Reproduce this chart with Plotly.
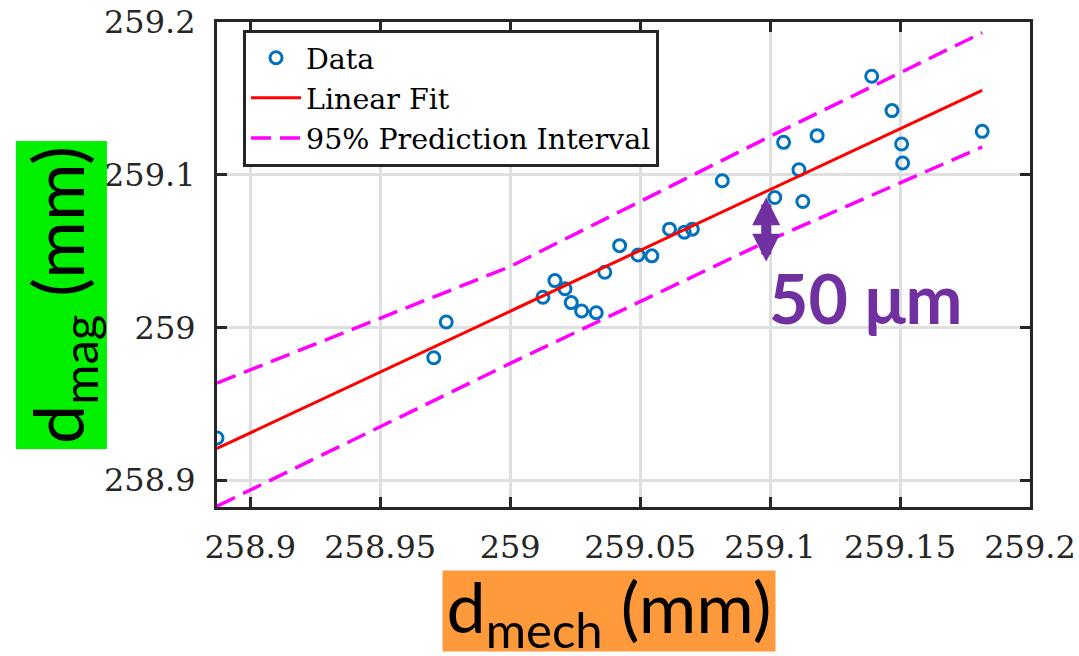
import plotly.graph_objects as go

# ---- data ----
data_x = [258.8872, 258.9706, 258.9754, 259.0126, 259.0172, 259.0211, 259.0235,
          259.0275, 259.0331, 259.0364, 259.0421, 259.0492, 259.0545, 259.0613,
          259.0670, 259.0701, 259.0816, 259.1018, 259.1052, 259.1111, 259.1126,
          259.1181, 259.1391, 259.1469, 259.1506, 259.1510, 259.1816]
data_y = [258.9277, 258.9802, 259.0036, 259.0198, 259.0307, 259.0254, 259.0163,
          259.0108, 259.0097, 259.0362, 259.0536, 259.0475, 259.0469, 259.0644,
          259.0624, 259.0644, 259.0961, 259.0851, 259.1212, 259.1033, 259.0825,
          259.1256, 259.1645, 259.1420, 259.1201, 259.1077, 259.1284]

fit_x = [258.8872, 259.1816]
fit_y = [258.9208, 259.1553]

pi_x = [258.8872, 259.0, 259.1, 259.1816]
pi_upper = [258.9636, 259.0399, 259.1251, 259.1930]
pi_lower = [258.8830, 258.9765, 259.0574, 259.1182]

x_ticks = [258.9, 258.95, 259.0, 259.05, 259.1, 259.15, 259.2]
x_ticktext = ["258.9", "258.95", "259", "259.05", "259.1", "259.15", "259.2"]
y_ticks = [258.9, 259.0, 259.1, 259.2]
y_ticktext = ["258.9", "259", "259.1", "259.2"]

x_range = [258.8872, 259.2]
y_range = [258.8825, 259.2]

arrow_x = 259.0985
arrow_top = 259.0862
arrow_bottom = 259.0430
label_50 = "50 μm"
label_50_x = 259.0990
label_50_y = 259.0195

AX = "#262626"
SERIF = "DejaVu Serif"
SANS = "Lato"

fig = go.Figure()
fig.add_trace(go.Scatter(
    x=data_x, y=data_y, mode="markers", name="Data",
    marker=dict(symbol="circle-open", size=12, color="#0072BD",
                line=dict(width=3, color="#0072BD")),
))
fig.add_trace(go.Scatter(
    x=fit_x, y=fit_y, mode="lines", name="Linear Fit",
    line=dict(color="#FF0000", width=3),
))
fig.add_trace(go.Scatter(
    x=pi_x, y=pi_upper, mode="lines", name="95% Prediction Interval",
    line=dict(color="#FF00FF", width=3.5, dash="20px,9px"),
))
fig.add_trace(go.Scatter(
    x=pi_x, y=pi_lower, mode="lines", name="95% Prediction Interval",
    showlegend=False,
    line=dict(color="#FF00FF", width=3.5, dash="20px,9px"),
))

axis_common = dict(
    showline=True, linecolor=AX, linewidth=3, mirror="allticks",
    ticks="inside", ticklen=10, tickwidth=3, tickcolor=AX,
    showgrid=True, gridcolor="#DFDFDF", gridwidth=2.5,
    zeroline=False, automargin=False,
    tickfont=dict(family=SERIF, size=32, color=AX),
)

fig.update_xaxes(range=x_range, tickvals=x_ticks, ticktext=x_ticktext,
                 ticklabelstandoff=10, **axis_common)
fig.update_yaxes(range=y_range, tickvals=y_ticks, ticktext=y_ticktext,
                 ticklabelstandoff=12, **axis_common)

fig.update_layout(
    width=1079, height=656,
    margin=dict(l=217, r=49, t=22, b=149, autoexpand=False),
    paper_bgcolor="white", plot_bgcolor="white",
    showlegend=True,
    legend=dict(
        x=0.032, y=0.984, xanchor="left", yanchor="top",
        bgcolor="white", bordercolor=AX, borderwidth=3,
        font=dict(family=SERIF, size=28.5, color="black"),
        tracegroupgap=0, itemwidth=50,
    ),
)

# axis titles with coloured backgrounds
fig.add_annotation(
    xref="paper", yref="paper", x=-0.1919, y=0.438,
    xanchor="center", yanchor="middle",
    text="d<sub>mag</sub> (mm)", textangle=-90, showarrow=False,
    font=dict(family=SANS, size=70, color="black"),
    bgcolor="#00F000", borderpad=0, width=307, height=90,
)
fig.add_annotation(
    xref="paper", yref="paper", x=0.482, y=-0.13,
    xanchor="center", yanchor="top",
    text="d<sub>mech</sub> (mm)", showarrow=False,
    font=dict(family=SANS, size=70, color="black"),
    bgcolor="#FF9A3C", borderpad=0, width=332, height=80,
)

# 50 µm double arrow and label
fig.add_annotation(
    x=arrow_x, y=arrow_bottom, ax=arrow_x, ay=arrow_top,
    xref="x", yref="y", axref="x", ayref="y",
    text="", showarrow=True, arrowside="end+start",
    arrowhead=2, startarrowhead=2, arrowsize=0.56, startarrowsize=0.56,
    arrowwidth=10, arrowcolor="#7030A0",
)
fig.add_annotation(
    x=label_50_x, y=label_50_y, xref="x", yref="y",
    xanchor="left", yanchor="middle", showarrow=False,
    text="<b>" + label_50 + "</b>",
    font=dict(family=SANS, size=68, color="#7030A0"),
)

fig.write_html("out.html")
